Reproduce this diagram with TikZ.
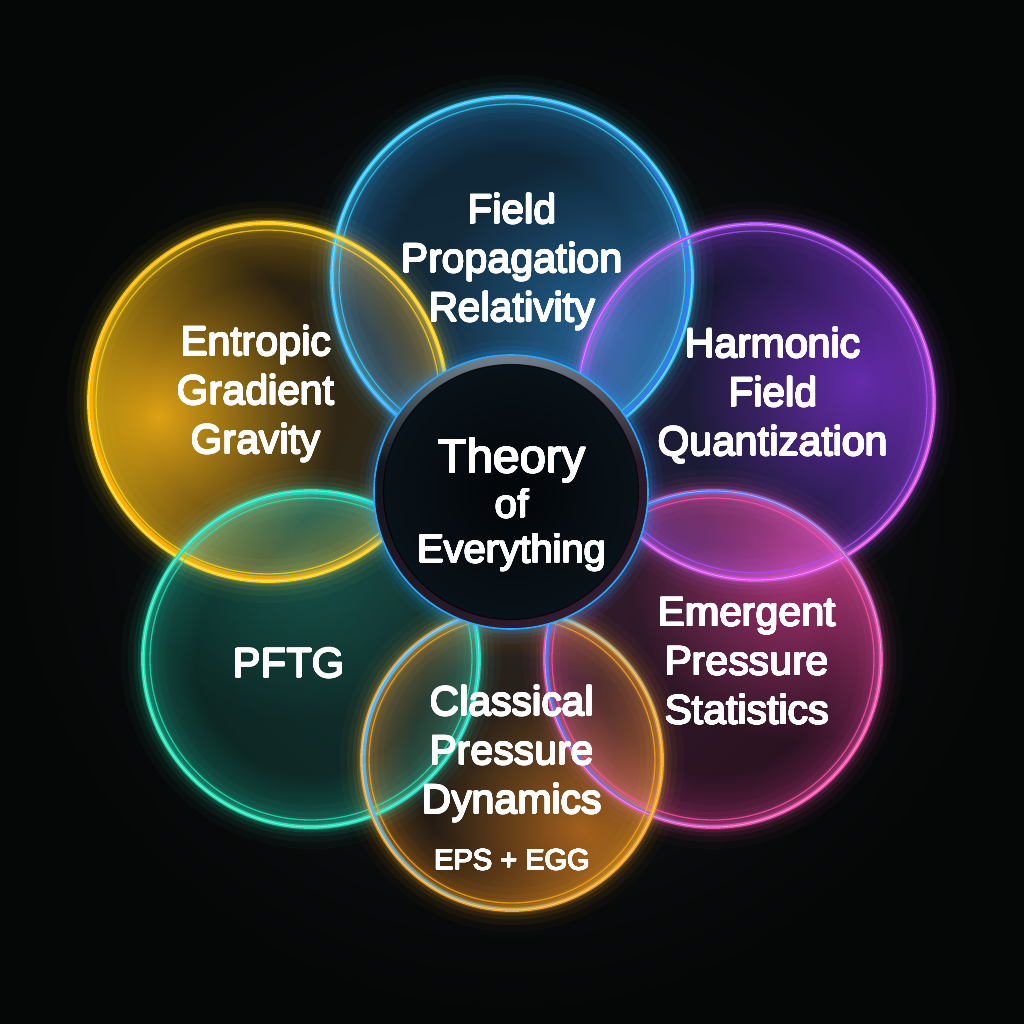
\documentclass[tikz,border=0pt]{standalone}
\usepackage{fontspec}
\usepackage[copies]{contour}
\newfontfamily\labelfont{Liberation Sans}
\usetikzlibrary{calc,fadings}

% slightly heavier white lettering
\contournumber{20}
\contourlength{0.55pt}
\newcommand\heavy[1]{\contour{white}{#1}}

% palette
\definecolor{bgin}{HTML}{14181B}
\definecolor{bgout}{HTML}{050606}
\definecolor{cyanrim}{HTML}{33CCFF}
\definecolor{cyanrimb}{HTML}{2F7BFF}
\definecolor{cyanbase}{HTML}{061C2C}
\definecolor{cyanspot}{HTML}{1C6FC4}
\definecolor{yelrim}{HTML}{FFD11A}
\definecolor{yelrimb}{HTML}{FFB000}
\definecolor{yelbase}{HTML}{221603}
\definecolor{yelspot}{HTML}{E39C06}
\definecolor{purrim}{HTML}{B04CFF}
\definecolor{purrimb}{HTML}{E04FE0}
\definecolor{purbase}{HTML}{0D0A24}
\definecolor{purspot}{HTML}{7420CC}
\definecolor{grnrim}{HTML}{25E6B4}
\definecolor{grnrimb}{HTML}{1FD8C8}
\definecolor{grnbase}{HTML}{031D19}
\definecolor{grnspot}{HTML}{12977A}
\definecolor{pnkrim}{HTML}{FF4DA6}
\definecolor{pnkrimb}{HTML}{3F7BFF}
\definecolor{pnkbase}{HTML}{220716}
\definecolor{pnkspot}{HTML}{C22A74}
\definecolor{orgrim}{HTML}{FFA31A}
\definecolor{orgrimb}{HTML}{59B4F0}
\definecolor{orgbase}{HTML}{190F07}
\definecolor{orgspot}{HTML}{D46C0C}
\definecolor{corein}{HTML}{020508}
\definecolor{coreout}{HTML}{0A131A}
\definecolor{coreglow}{HTML}{1E9BFF}
\definecolor{coreedge}{HTML}{2AA8FF}
\definecolor{bevel}{HTML}{0E161C}
\definecolor{bevellight}{HTML}{8CA2AE}
\definecolor{corepink}{HTML}{7A2656}

% soft spot and rim tint fadings
\tikzfading[name=spotfade, inner color=transparent!0, outer color=transparent!100]
\pgfdeclareradialshading{rimshade}{\pgfpointorigin}{color(0bp)=(black); color(17bp)=(black); color(25bp)=(white); color(50bp)=(white)}
\pgfdeclarefading{rimfade}{\pgfuseshading{rimshade}}
\pgfdeclareverticalshading{topshade}{100bp}{color(0bp)=(black); color(55bp)=(black); color(75bp)=(white); color(100bp)=(white)}
\pgfdeclarefading{topfade}{\pgfuseshading{topshade}}

% halo around a bubble: centre, radius, colour
\newcommand\bubbleglow[3]{%
  \foreach \w/\o in {44/0.03,30/0.05,19/0.08,11/0.12,6/0.18}{%
    \draw[#3, line width=\w, draw opacity=\o] #1 circle[radius=#2pt];}}

% tinted glass body: centre, radius, base tint, spot colour, spot offset, spot opacity
\newcommand\bubblebody[6]{%
  \fill[#3] #1 circle[radius=#2pt];
  \begin{scope}
    \clip #1 circle[radius=#2pt];
    \fill[#4, fill opacity=#6, path fading=spotfade] ($#1+#5$) circle[radius=#2pt];
    \fill[#4, fill opacity=0.32, path fading=rimfade] #1 circle[radius=#2pt];
  \end{scope}}

% bright double rim: centre, radius, rim colour, second colour, direction of second colour
\newcommand\bubblerim[5]{%
  \draw[#3, line width=3.8] #1 circle[radius=#2pt];
  \draw[#4, line width=3.8, path fading=west, fading angle=#5] #1 circle[radius=#2pt];
  \draw[white, line width=0.8, draw opacity=0.45] #1 circle[radius=#2pt];
  \draw[#3, line width=1.3, draw opacity=0.8] #1 circle[radius=#2pt-7pt];}

\tikzset{
  lab/.style={text=white, font=\labelfont\fontsize{41}{49}\selectfont,
    align=center, anchor=north, inner sep=0pt},
  tag/.style={text=white, font=\labelfont\fontsize{29}{34}\selectfont,
    anchor=north, inner sep=0pt},
  corelab/.style={text=white, font=\labelfont\fontsize{40}{45}\selectfont,
    align=center, anchor=north, inner sep=0pt}
}

\begin{document}
\begin{tikzpicture}[x=1pt, y=-1pt]
  \useasboundingbox (0,0) rectangle (1024,1024);
  \shade[inner color=bgin, outer color=bgout] (0,0) rectangle (1024,1024);

  % bubble centres
  \coordinate (cTop) at (512,277);
  \coordinate (cYel) at (268,402);
  \coordinate (cPur) at (756,402);
  \coordinate (cGrn) at (311,659);
  \coordinate (cPnk) at (713,659);
  \coordinate (cOrg) at (512,760);
  \coordinate (core) at (511,492);

  \begin{scope}[blend mode=screen]
    \bubbleglow{(cTop)}{180}{cyanrim}
    \bubbleglow{(cYel)}{179}{yelrim}
    \bubbleglow{(cPur)}{178}{purrim}
    \bubbleglow{(cGrn)}{168}{grnrim}
    \bubbleglow{(cPnk)}{168}{pnkrim}
    \bubbleglow{(cOrg)}{150}{orgrim}

    \bubblebody{(cTop)}{180}{cyanbase}{cyanspot}{(95,55)}{0.6}
    \bubblebody{(cYel)}{179}{yelbase}{yelspot}{(-110,15)}{0.95}
    \bubblebody{(cPur)}{178}{purbase}{purspot}{(105,-20)}{0.75}
    \bubblebody{(cGrn)}{168}{grnbase}{grnspot}{(-10,-100)}{0.3}
    \bubblebody{(cPnk)}{168}{pnkbase}{pnkspot}{(85,-85)}{0.75}
    \bubblebody{(cOrg)}{150}{orgbase}{orgspot}{(70,70)}{0.7}
  \end{scope}

  \bubblerim{(cTop)}{180}{cyanrim}{cyanrimb}{-40}
  \bubblerim{(cYel)}{179}{yelrim}{yelrimb}{200}
  \bubblerim{(cPur)}{178}{purrim}{purrimb}{-60}
  \bubblerim{(cGrn)}{168}{grnrim}{grnrimb}{30}
  \bubblerim{(cPnk)}{168}{pnkrim}{pnkrimb}{140}
  \bubblerim{(cOrg)}{150}{orgrim}{orgrimb}{150}

  % central disc
  \foreach \w/\o in {30/0.05,18/0.09,10/0.15}
    \draw[coreglow, line width=\w, draw opacity=\o] (core) circle[radius=137pt];
  \shade[inner color=corein, outer color=coreout] (core) circle[radius=137pt];
  \draw[bevel, line width=9] (core) circle[radius=132pt];
  \draw[bevellight, line width=9, draw opacity=0.8, path fading=topfade] (core) circle[radius=132pt];
  \draw[corepink, line width=9, draw opacity=0.35, path fading=west, fading angle=-50] (core) circle[radius=132pt];
  \draw[black, line width=1.2, draw opacity=0.7] (core) circle[radius=127.5pt];
  \draw[coreedge, line width=1.6] (core) circle[radius=137pt];

  % labels
  \node[lab] (fpr) at (512,193.6) {\heavy{Field}\\\heavy{Propagation}\\\heavy{Relativity}};
  \node[lab] (egg) at (256,325.6) {\heavy{Entropic}\\\heavy{Gradient}\\\heavy{Gravity}};
  \node[lab] (hfq) at (773,327.6) {\heavy{Harmonic}\\\heavy{Field}\\\heavy{Quantization}};
  \node[lab, font=\labelfont\fontsize{42}{49}\selectfont] (pftg) at (289,648) {\heavy{PFTG}};
  \node[lab] (eps) at (747,597.6) {\heavy{Emergent}\\\heavy{Pressure}\\\heavy{Statistics}};
  \node[lab] (cpd) at (512,685.6) {\heavy{Classical}\\\heavy{Pressure}\\\heavy{Dynamics}};
  \node[tag] (epsegg) at (512,849.2) {\heavy{EPS + EGG}};
  \node[corelab] (toe) at (512,438) {{\fontsize{47.5}{45}\selectfont\heavy{Theory}}\\\heavy{of}\\\heavy{Everything}};
\end{tikzpicture}
\end{document}
